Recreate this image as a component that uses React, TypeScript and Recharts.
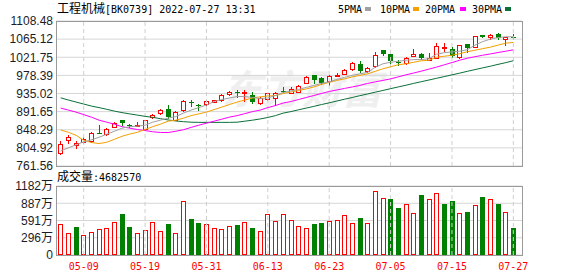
import React from 'react';
import { ComposedChart, Bar, Line, XAxis, YAxis, CartesianGrid, ReferenceLine } from 'recharts';

const dates = [
  '04-29', '05-05', '05-06', '05-09', '05-10', '05-11', '05-12', '05-13', '05-16', '05-17',
  '05-18', '05-19', '05-20', '05-23', '05-24', '05-25', '05-26', '05-27', '05-30', '05-31',
  '06-01', '06-02', '06-06', '06-07', '06-08', '06-09', '06-10', '06-13', '06-14', '06-15',
  '06-16', '06-17', '06-20', '06-21', '06-22', '06-23', '06-24', '06-27', '06-28', '06-29',
  '06-30', '07-01', '07-04', '07-05', '07-06', '07-07', '07-08', '07-11', '07-12', '07-13',
  '07-14', '07-15', '07-18', '07-19', '07-20', '07-21', '07-22', '07-25', '07-26', '07-27',
];

const openP = [
  793.6, 823.5, 812.2, 820.1, 821.8, 841.2, 837.9, 855.5, 871.7, 860.4,
  857.9, 850.0, 877.9, 887.6, 898.2, 872.4, 896.5, 914.5, 908.6, 910.2,
  915.0, 919.9, 933.3, 937.7, 937.4, 932.6, 911.7, 921.3, 924.7, 940.0,
  937.4, 939.8, 960.8, 978.4, 971.9, 963.9, 979.6, 982.5, 993.6, 1006.6,
  988.8, 1000.1, 1038.6, 1029.0, 1011.0, 1008.0, 1024.2, 1030.7, 1016.2, 1021.0,
  1046.0, 1041.8, 1022.5, 1052.3, 1046.6, 1074.5, 1069.2, 1077.2, 1065.1, 1071.0,
];
const highP = [
  821.8, 836.3, 821.8, 829.8, 843.5, 859.6, 852.4, 867.6, 871.7, 862.0,
  867.6, 872.5, 885.2, 897.2, 907.8, 894.1, 920.6, 920.6, 910.2, 919.9,
  920.6, 934.3, 940.6, 942.3, 942.3, 939.1, 927.8, 937.4, 938.2, 950.2,
  950.2, 954.3, 976.0, 978.4, 974.3, 980.1, 983.9, 992.8, 1009.7, 1012.1,
  998.4, 1033.8, 1038.6, 1030.7, 1016.2, 1022.5, 1040.3, 1033.1, 1033.1, 1054.8,
  1056.2, 1045.1, 1051.4, 1052.3, 1073.0, 1076.0, 1077.2, 1078.9, 1070.7, 1076.5,
];
const lowP = [
  791.2, 817.7, 804.2, 817.7, 819.4, 839.4, 836.3, 853.9, 859.6, 855.5,
  857.2, 848.3, 876.5, 886.1, 876.5, 871.7, 894.1, 905.4, 895.8, 905.4,
  914.1, 918.2, 930.9, 926.1, 918.2, 912.6, 910.2, 919.9, 908.5, 938.2,
  935.7, 938.2, 959.1, 959.8, 958.4, 956.0, 976.0, 980.8, 992.1, 986.3,
  986.3, 998.4, 1028.3, 1006.6, 1004.2, 1006.6, 1024.2, 1018.6, 1014.5, 1019.3,
  1036.9, 1022.5, 1021.0, 1034.5, 1045.1, 1069.5, 1065.8, 1065.8, 1051.4, 1065.8,
];
const closeP = [
  815.3, 829.8, 816.3, 825.9, 840.0, 840.4, 849.0, 864.5, 863.5, 859.6,
  860.4, 871.7, 883.7, 895.8, 877.9, 891.7, 917.4, 913.4, 908.0, 918.2,
  918.9, 932.6, 939.1, 937.0, 938.2, 914.1, 924.7, 935.7, 936.7, 939.4,
  946.4, 952.6, 974.3, 968.0, 959.8, 977.7, 980.1, 992.1, 1008.0, 988.8,
  995.3, 1026.6, 1030.7, 1012.8, 1010.4, 1021.0, 1029.0, 1020.1, 1021.0, 1048.3,
  1046.6, 1024.2, 1049.9, 1042.7, 1071.5, 1071.0, 1074.0, 1067.6, 1070.7, 1069.8,
];

const volume = [
  531, 377, 480, 337, 394, 445, 463, 565, 702, 480,
  377, 428, 565, 411, 531, 377, 925, 617, 548, 531,
  463, 445, 497, 514, 565, 463, 411, 702, 582, 702,
  600, 497, 463, 531, 548, 582, 600, 685, 548, 634,
  548, 1096, 976, 959, 805, 874, 719, 1028, 959, 1062,
  874, 925, 719, 737, 857, 994, 959, 874, 737, 468,
];

const ma5 = [
  797.7, 805.0, 812.2, 819.4, 824.2, 830.3, 837.5, 844.7, 852.0, 855.6,
  856.8, 859.2, 866.4, 871.2, 876.0, 879.7, 888.1, 895.3, 901.3, 907.4,
  915.8, 920.6, 924.2, 927.8, 927.8, 925.4, 923.0, 924.2, 930.2, 937.5,
  941.1, 944.7, 949.5, 954.3, 959.2, 962.8, 968.8, 973.6, 978.4, 982.0,
  985.7, 997.7, 1006.1, 1009.7, 1012.2, 1014.6, 1016.2, 1016.2, 1018.2, 1029.0,
  1032.6, 1034.6, 1036.2, 1039.9, 1050.7, 1059.1, 1065.1, 1068.8, 1070.7, 1070.7,
];
const ma10 = [
  847.6, 842.3, 835.1, 823.0, 817.7, 815.3, 818.2, 825.5, 832.7, 838.0,
  842.3, 848.8, 855.6, 861.6, 868.8, 871.2, 876.0, 882.1, 886.2, 890.5,
  896.5, 902.5, 908.6, 914.6, 919.4, 924.2, 927.1, 929.0, 930.2, 935.1,
  938.7, 942.3, 945.9, 950.7, 956.7, 961.6, 966.4, 970.0, 974.8, 978.4,
  982.0, 988.1, 994.1, 998.9, 1003.7, 1006.1, 1009.7, 1013.4, 1014.6, 1021.8,
  1024.2, 1026.6, 1030.2, 1035.0, 1038.6, 1042.3, 1045.9, 1050.7, 1055.5, 1057.2,
];
const ma20 = [
  900.1, 895.3, 890.5, 884.5, 878.5, 871.2, 866.4, 861.6, 855.6, 852.0,
  848.8, 846.4, 843.5, 841.8, 841.6, 844.7, 848.3, 853.9, 859.2, 864.0,
  868.8, 873.6, 878.5, 882.1, 886.9, 891.7, 895.3, 901.3, 906.2, 912.2,
  915.8, 920.6, 925.4, 930.2, 935.1, 939.9, 943.5, 947.1, 950.7, 954.3,
  959.2, 962.8, 966.4, 970.0, 974.8, 979.6, 984.0, 988.5, 993.4, 998.2,
  1003.7, 1009.0, 1014.6, 1019.4, 1023.0, 1026.6, 1029.7, 1033.1, 1036.2, 1039.4,
];
const ma30 = [
  924.7, 919.4, 914.6, 909.8, 905.0, 901.3, 897.2, 892.9, 889.3, 886.2,
  883.3, 880.4, 878.0, 874.8, 871.7, 869.3, 867.6, 866.4, 865.9, 865.9,
  865.9, 865.9, 865.9, 866.4, 868.8, 871.2, 874.1, 877.7, 882.1, 888.1,
  891.7, 896.0, 900.1, 904.2, 908.6, 912.7, 917.0, 921.3, 925.4, 929.8,
  933.9, 938.2, 942.3, 946.6, 950.7, 954.8, 959.2, 963.2, 967.3, 971.4,
  975.5, 979.6, 983.7, 988.1, 992.2, 996.3, 1000.3, 1004.7, 1008.8, 1013.4,
];

const priceTicks = [761.56, 804.92, 848.29, 891.65, 935.02, 978.39, 1021.75, 1065.12, 1108.48];
const volTicks = [0, 295.5, 591, 886.5, 1182];
const dateTickIdx = [3, 11, 19, 27, 35, 43, 51, 59];

const RED = '#ff0000';
const GREEN = '#008000';
const C_MA5 = '#a0a0a0';
const C_MA10 = '#f5a000';
const C_MA20 = '#ff00ff';
const C_MA30 = '#0a7038';
const GRID = '#d6d6d6';
const FRAME = '#9a9a9a';
const X_DOMAIN: [number, number] = [-0.61, 60.13];

const rows = dates.map((d, i) => ({
  i,
  date: d,
  open: openP[i],
  high: highP[i],
  low: lowP[i],
  close: closeP[i],
  range: [lowP[i], highP[i]],
  vol: volume[i],
  volUp: closeP[i] >= (i === 0 ? openP[i] : closeP[i - 1]),
  ma5: ma5[i],
  ma10: ma10[i],
  ma20: ma20[i],
  ma30: ma30[i],
}));

function Candle(props: any) {
  const { x, y, width, height, payload } = props;
  if (x == null || y == null || !payload) return null;
  const { open, close, high, low } = payload;
  const span = high - low || 1;
  const py = (v: number) => y + ((high - v) / span) * height;
  const up = close > open;
  const color = up ? RED : GREEN;
  const cx = Math.round(x + width / 2);
  const wx = cx + 0.5;
  const left = cx - 2;
  const bTop = Math.round(py(Math.max(open, close)));
  let bBot = Math.round(py(Math.min(open, close)));
  const hy = Math.round(py(high));
  const ly = Math.round(py(low));
  if (up) {
    if (bBot - bTop < 1) bBot = bTop + 1;
    return (
      <g shapeRendering="crispEdges">
        {hy < bTop && <line x1={wx} x2={wx} y1={hy} y2={bTop} stroke={color} />}
        {ly > bBot && <line x1={wx} x2={wx} y1={bBot} y2={ly + 1} stroke={color} />}
        <rect x={left + 0.5} y={bTop + 0.5} width={4} height={bBot - bTop} fill="#fff" stroke={color} />
      </g>
    );
  }
  const h = Math.max(1, bBot - bTop);
  return (
    <g shapeRendering="crispEdges">
      <line x1={wx} x2={wx} y1={hy} y2={ly + 1} stroke={color} />
      <rect x={left} y={bTop} width={5} height={h} fill={color} />
    </g>
  );
}

function VolBar(props: any) {
  const { x, y, width, height, payload } = props;
  if (x == null || y == null || !payload) return null;
  const cx = Math.round(x + width / 2);
  const left = cx - 2;
  const top = Math.round(y);
  const bottom = Math.round(y + height);
  if (payload.volUp) {
    return (
      <rect x={left + 0.5} y={top + 0.5} width={4} height={Math.max(1, bottom - top - 1)}
        fill="#fff" stroke={RED} shapeRendering="crispEdges" />
    );
  }
  return <rect x={left} y={top} width={5} height={bottom - top} fill={GREEN} shapeRendering="crispEdges" />;
}

const numFont = 'Liberation Sans, Arial, Noto Sans CJK SC, sans-serif';
const monoFont = 'DejaVu Sans Mono, Liberation Mono, monospace';
const cjkFont = 'Noto Sans CJK SC, sans-serif';

const legendItems = [
  { label: '5PMA', x: 338, sq: 365, color: C_MA5 },
  { label: '10PMA', x: 380, sq: 413, color: C_MA10 },
  { label: '20PMA', x: 425, sq: 460, color: C_MA20 },
  { label: '30PMA', x: 472, sq: 505, color: C_MA30 },
];

export default function App() {
  return (
    <div style={{ position: 'absolute', left: 0, top: 0, width: 578, height: 276, background: '#fff', overflow: 'hidden' }}>
      <svg width={578} height={276} style={{ position: 'absolute', left: 0, top: 0 }}>
        <text x={222} y={104} fontSize={40} fontWeight="bold" fontStyle="italic" fill="#efefef" fontFamily={cjkFont}>东方财富</text>
      </svg>
      <div style={{ position: 'absolute', left: 0, top: 0 }}>
        <ComposedChart width={578} height={178} data={rows} margin={{ top: 21, right: 56, bottom: 12, left: 0 }}>
          <CartesianGrid horizontal vertical={false} stroke={GRID} />
          <XAxis dataKey="i" type="number" domain={X_DOMAIN} allowDataOverflow hide />
          <YAxis
            type="number"
            domain={[761.56, 1108.48]}
            ticks={priceTicks}
            allowDataOverflow
            width={56}
            tickSize={1}
            tickMargin={2}
            tickLine={false}
            axisLine={false}
            interval={0}
            tickFormatter={(v: number) => v.toFixed(2)}
            tick={{ fontSize: 12, fill: '#1c1c28', fontFamily: numFont }}
          />
          {dateTickIdx.map((t) => (
            <ReferenceLine key={t} x={t} stroke="#cfcfcf" strokeDasharray="4 3" />
          ))}
          <Bar dataKey="range" barSize={5} shape={(p: any) => <Candle {...p} />} isAnimationActive={false} />
          <Line dataKey="ma30" stroke={C_MA30} strokeWidth={1} dot={false} type="linear" isAnimationActive={false} />
          <Line dataKey="ma20" stroke={C_MA20} strokeWidth={1} dot={false} type="linear" isAnimationActive={false} />
          <Line dataKey="ma10" stroke={C_MA10} strokeWidth={1} dot={false} type="linear" isAnimationActive={false} />
          <Line dataKey="ma5" stroke={C_MA5} strokeWidth={1} dot={false} type="linear" isAnimationActive={false} />
        </ComposedChart>
      </div>
      <div style={{ position: 'absolute', left: 0, top: 170 }}>
        <ComposedChart width={578} height={106} data={rows} margin={{ top: 16, right: 56, bottom: 0, left: 0 }}>
          <CartesianGrid horizontal vertical={false} stroke={GRID} />
          <XAxis
            dataKey="i"
            type="number"
            domain={X_DOMAIN}
            allowDataOverflow
            ticks={dateTickIdx}
            interval={0}
            height={21}
            tickLine={false}
            axisLine={false}
            tickFormatter={(v: number) => dates[v] ?? ''}
            tick={{ fontSize: 10, fill: RED, fontFamily: monoFont }}
          />
          <YAxis
            type="number"
            domain={[0, 1182]}
            ticks={volTicks}
            allowDataOverflow
            width={56}
            tickSize={1}
            tickMargin={2}
            tickLine={false}
            axisLine={false}
            interval={0}
            tickFormatter={(v: number) => (v === 0 ? '0' : `${Math.round(v)}万`)}
            tick={{ fontSize: 12, fill: '#1c1c28', fontFamily: numFont }}
          />
          {dateTickIdx.map((t) => (
            <ReferenceLine key={t} x={t} stroke="#cfcfcf" strokeDasharray="4 3" />
          ))}
          <Bar dataKey="vol" barSize={5} shape={(p: any) => <VolBar {...p} />} isAnimationActive={false} />
        </ComposedChart>
      </div>
      <svg width={578} height={276} style={{ position: 'absolute', left: 0, top: 0, pointerEvents: 'none' }}>
        <rect x={56.5} y={21.5} width={466} height={145} fill="none" stroke={FRAME} shapeRendering="crispEdges" />
        <rect x={56.5} y={186.5} width={466} height={69} fill="none" stroke={FRAME} shapeRendering="crispEdges" />
        <text x={57} y={13} fill="#000">
          <tspan fontFamily={cjkFont} fontSize={12}>工程机械</tspan>
          <tspan fontFamily={monoFont} fontSize={10}>[BK0739] 2022-07-27 13:31</tspan>
        </text>
        {legendItems.map((it) => (
          <g key={it.label}>
            <text x={it.x} y={13} fontFamily={monoFont} fontSize={10} fill="#000">{it.label}</text>
            <rect x={it.sq} y={7} width={6} height={4} fill={it.color} />
          </g>
        ))}
        <text x={57} y={181} fill="#000">
          <tspan fontFamily={cjkFont} fontSize={12}>成交量</tspan>
          <tspan fontFamily={monoFont} fontSize={10}>:4682570</tspan>
        </text>
      </svg>
    </div>
  );
}
